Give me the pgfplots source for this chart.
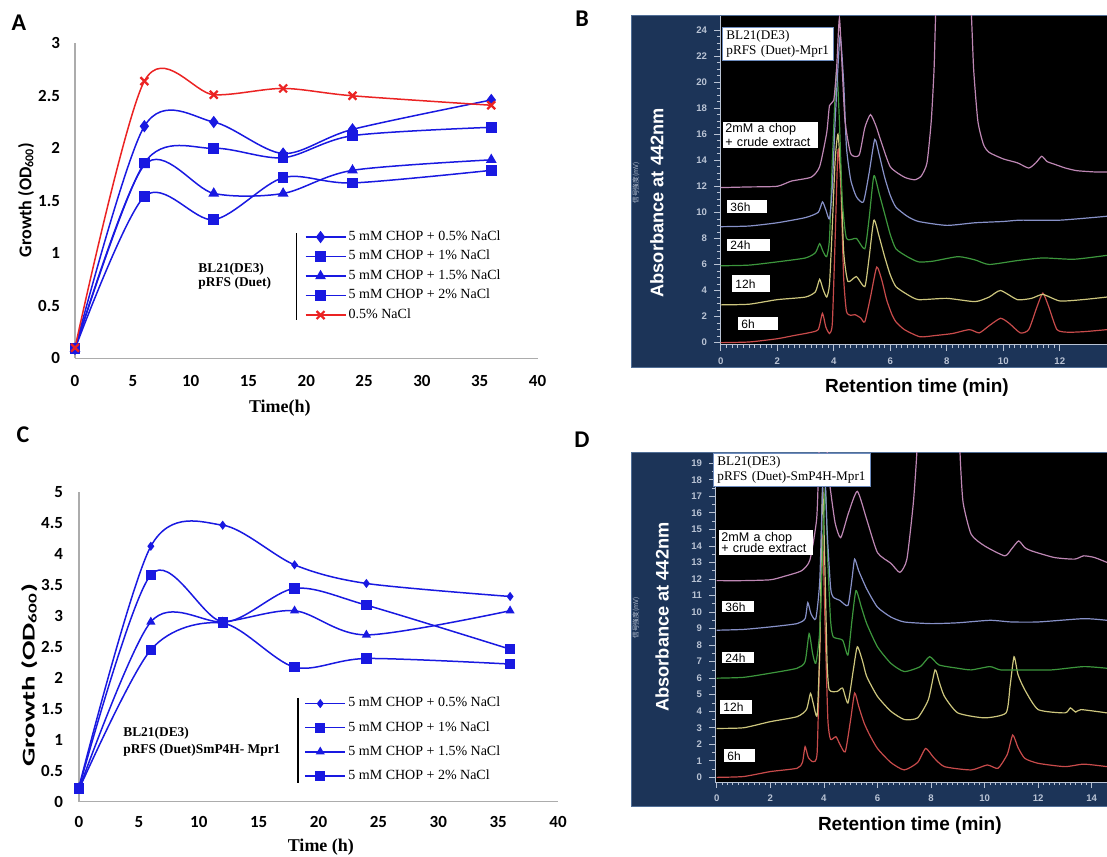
\documentclass[border=0pt]{standalone}
\usepackage{fontspec}
\setmainfont{Liberation Serif}
\newfontfamily\calibri{Carlito}
\newfontfamily\arial{Liberation Sans}
\newfontfamily\jpfont{Noto Sans CJK JP}
\usepackage{graphicx}
\usepackage{pgfplots}
\pgfplotsset{compat=1.18}

\definecolor{exblue}{RGB}{25,25,225}
\definecolor{exred}{RGB}{235,35,35}
\definecolor{navyframe}{RGB}{28,52,88}
\definecolor{navyedge}{RGB}{80,110,150}
\definecolor{boxblue}{RGB}{110,140,190}
\definecolor{c6}{RGB}{200,75,75}
\definecolor{c12}{RGB}{205,198,125}
\definecolor{c24}{RGB}{60,150,60}
\definecolor{c36}{RGB}{135,145,200}
\definecolor{cstd}{RGB}{190,135,180}
\definecolor{ticklight}{RGB}{185,195,212}

\pgfplotsset{
  growth/.style={
    scale only axis, clip=false,
    axis lines=left,
    axis line style={-, draw=gray!65, line width=0.6pt},
    major tick length=0pt, tick style={draw=none},
    tick label style={font=\calibri\bfseries\fontsize{8.5}{10}\selectfont},
    /pgf/number format/assume math mode=true,
    xmin=0, xmax=40, xtick={0,5,...,40},
    legend cell align=left,
    legend image code/.code={
      \draw[mark repeat=2,mark phase=2,##1] plot coordinates {(0pt,0pt) (7.5pt,0pt) (15pt,0pt)};
      \path (15pt,0pt) -- (20pt,0pt);
    },
    every axis plot/.append style={line width=0.75pt, smooth},
  },
  chrom/.style={
    scale only axis,
    axis background/.style={fill=black},
    axis x line*=bottom, axis y line*=left,
    axis line style={-, draw=ticklight, line width=0.5pt},
    tick align=outside, major tick length=3pt, minor tick length=1.6pt,
    tick style={draw=ticklight, line width=0.35pt},
    tick label style={font=\arial\bfseries\fontsize{4.8}{5}\selectfont, text=ticklight},
    /pgf/number format/assume math mode=true,
    xlabel style={font=\arial\bfseries\fontsize{9.5}{11}\selectfont, text=black, anchor=center},
    ylabel style={font=\arial\bfseries\fontsize{9.1}{11}\selectfont, text=white, anchor=center},
    every axis plot/.append style={line width=0.6pt, smooth, tension=0.35, no markers},
  },
}

\begin{document}
\begin{tikzpicture}
\useasboundingbox (0pt,0pt) rectangle (553.5pt,428pt);

% dark frames of the chromatograms
\begin{scope}[x=0.5pt, y=-0.5pt, shift={(0pt,428pt)}]
  \fill[navyframe, draw=navyedge, line width=0.5pt] (631,16) rectangle (1110,368);
  \fill[navyframe, draw=navyedge, line width=0.5pt] (631,453) rectangle (1110,806);
\end{scope}

% ---------------- Panel A ----------------
\begin{axis}[growth, at={(37.5pt,248.85pt)}, anchor=south west,
  width=231.25pt, height=157.5pt,
  ymin=0, ymax=3, ytick={0,0.5,...,3},
  yticklabel style={xshift=-4pt}, xticklabel style={yshift=-5pt},
  xlabel={Time(h)},
  xlabel style={font=\bfseries\fontsize{9}{10}\selectfont, at={(axis description cs:0.443,-0.158)}, anchor=center},
  ylabel={Growth (OD\textsubscript{600})},
  ylabel style={font=\calibri\bfseries\fontsize{9}{10}\selectfont, at={(axis description cs:-0.106,0.503)}, anchor=center},
  legend style={draw=none, fill=none, at={(axis description cs:0.496,0.414)}, anchor=north west,
    font=\fontsize{7}{8}\selectfont, row sep=1pt, inner sep=0pt, nodes={inner sep=1.2pt}},
]
\addplot[exblue, mark=diamond*, mark size=2.5pt] coordinates {(0,0.09)(6,2.21)(12,2.25)(18,1.95)(24,2.18)(36,2.46)};
\addlegendentry{5 mM CHOP + 0.5\% NaCl}
\addplot[exblue, mark=square*, mark size=2.3pt] coordinates {(0,0.09)(6,1.86)(12,2.0)(18,1.91)(24,2.12)(36,2.2)};
\addlegendentry{5 mM CHOP + 1\% NaCl}
\addplot[exblue, mark=triangle*, mark size=2.4pt] coordinates {(0,0.09)(6,1.84)(12,1.57)(18,1.57)(24,1.79)(36,1.89)};
\addlegendentry{5 mM CHOP + 1.5\% NaCl}
\addplot[exblue, mark=square*, mark size=2.3pt] coordinates {(0,0.09)(6,1.54)(12,1.32)(18,1.72)(24,1.67)(36,1.79)};
\addlegendentry{5 mM CHOP + 2\% NaCl}
\addplot[exred, mark=x, mark size=2.8pt, mark options={line width=1.1pt}] coordinates {(0,0.1)(6,2.64)(12,2.51)(18,2.57)(24,2.5)(36,2.41)};
\addlegendentry{0.5\% NaCl}
\draw[black, line width=0.8pt] (axis cs:19.17,1.193) -- (axis cs:19.17,0.365);
\node[anchor=north west, align=left, inner sep=0pt, font=\bfseries\fontsize{6.7}{7}\selectfont]
  at (axis cs:10.64,0.908) {BL21(DE3)\\pRFS (Duet)};
\end{axis}

% ---------------- Panel C ----------------
\begin{axis}[growth, at={(39.5pt,27.15pt)}, anchor=south west,
  width=239.5pt, height=155pt,
  ymin=0, ymax=5, ytick={0,0.5,...,5},
  yticklabel style={xshift=-4.5pt}, xticklabel style={yshift=-4pt},
  xlabel={Time (h)},
  xlabel style={font=\bfseries\fontsize{9}{10}\selectfont, at={(axis description cs:0.505,-0.146)}, anchor=center},
  ylabel={\scalebox{1.6}[1]{Growth (OD\textsubscript{600})}},
  ylabel style={font=\calibri\bfseries\fontsize{9}{10}\selectfont, at={(axis description cs:-0.104,0.409)}, anchor=center},
  legend style={draw=none, fill=none, at={(axis description cs:0.470,0.346)}, anchor=north west,
    font=\fontsize{7}{8}\selectfont, row sep=3.3pt, inner sep=0pt, nodes={inner sep=1.2pt}},
]
\addplot[exblue, mark=diamond*, mark size=1.7pt] coordinates {(0,0.24)(6,4.12)(12,4.46)(18,3.82)(24,3.52)(36,3.31)};
\addlegendentry{5 mM CHOP + 0.5\% NaCl}
\addplot[exblue, mark=square*, mark size=2.2pt] coordinates {(0,0.22)(6,3.66)(12,2.9)(18,3.44)(24,3.17)(36,2.46)};
\addlegendentry{5 mM CHOP + 1\% NaCl}
\addplot[exblue, mark=triangle*, mark size=1.9pt] coordinates {(0,0.2)(6,2.9)(12,2.9)(18,3.08)(24,2.69)(36,3.08)};
\addlegendentry{5 mM CHOP + 1.5\% NaCl}
\addplot[exblue, mark=square*, mark size=2.2pt] coordinates {(0,0.2)(6,2.45)(12,2.88)(18,2.17)(24,2.31)(36,2.22)};
\addlegendentry{5 mM CHOP + 2\% NaCl}
\draw[black, line width=0.8pt] (axis cs:18.31,1.673) -- (axis cs:18.31,0.302);
\node[anchor=north west, align=left, inner sep=0pt, font=\bfseries\fontsize{6.7}{8.5}\selectfont]
  at (axis cs:3.67,1.205) {BL21(DE3)\\pRFS (Duet)SmP4H- Mpr1};
\end{axis}

% ---------------- Panel B ----------------
\begin{axis}[chrom, at={(360pt,255.5pt)}, anchor=south west,
  width=193.5pt, height=164.5pt,
  xmin=-0.025, xmax=13.67, ymin=-0.18, ymax=25.07,
  xtick={0,2,...,12}, ytick={0,2,...,24}, minor x tick num=9, minor y tick num=3,
  xlabel={Retention time (min)}, xlabel style={at={(axis description cs:0.509,-0.128)}},
  ylabel={Absorbance at 442nm}, ylabel style={at={(axis description cs:-0.163,0.432)}},
]
% 6h
\addplot[c6] coordinates {(0,0)(1,0.05)(2,0.3)(2.6,0.55)(3.1,0.75)(3.45,1.0)(3.6,2.25)(3.72,1.2)(3.85,0.7)(3.95,1.5)(4.05,8)(4.15,14.8)(4.25,12)(4.35,5)(4.45,2.4)(4.6,2.1)(4.75,2.15)(4.95,1.9)(5.1,1.6)(5.3,3.5)(5.52,5.8)(5.7,4.8)(5.87,3.3)(6.05,2.2)(6.2,1.6)(6.5,1.0)(7.05,0.45)(7.6,0.55)(8.2,0.7)(8.8,1.0)(9.15,0.75)(9.5,1.3)(9.9,1.87)(10.2,1.5)(10.6,0.75)(10.9,1.0)(11.2,2.8)(11.4,3.8)(11.6,2.8)(11.9,1.0)(12.3,0.8)(12.9,0.85)(13.67,1.0)};
% 12h
\addplot[c12] coordinates {(0,2.9)(1,2.95)(2,3.3)(3.0,3.5)(3.35,3.9)(3.5,4.86)(3.62,4.1)(3.75,3.5)(3.85,4.5)(3.95,9)(4.05,14)(4.15,16)(4.25,13)(4.35,7)(4.5,4.7)(4.8,5.07)(5.1,4.3)(5.25,6.5)(5.42,9.4)(5.6,8.2)(5.8,6.6)(6.0,5.2)(6.2,4.3)(6.6,3.7)(7,3.3)(8,3.4)(9,3.15)(9.5,3.5)(9.9,4.0)(10.5,3.3)(11.0,3.4)(11.4,3.7)(12,3.2)(12.8,3.3)(13.67,3.5)};
% 24h
\addplot[c24] coordinates {(0,5.9)(1,5.95)(2,6.2)(3.0,6.5)(3.35,6.9)(3.5,7.6)(3.62,7.0)(3.75,6.6)(3.85,8)(3.95,14)(4.1,20.9)(4.2,17)(4.3,11)(4.45,8.0)(4.8,8.0)(5.1,7.2)(5.25,9.5)(5.42,12.8)(5.6,11.5)(5.8,9.9)(6.0,8.3)(6.2,7.2)(6.6,6.6)(7,6.2)(7.5,6.25)(8.4,6.6)(9.0,6.35)(9.5,6.0)(10.5,6.3)(11.4,6.5)(12.5,6.4)(13.67,6.7)};
% 36h
\addplot[c36] coordinates {(0,8.9)(1,8.95)(2,9.2)(3.0,9.6)(3.45,10.0)(3.6,10.8)(3.72,10.2)(3.85,9.5)(3.95,12)(4.05,17)(4.22,23.5)(4.35,20)(4.45,15)(4.6,12.5)(4.8,11.2)(5.05,10.8)(5.25,13)(5.45,15.6)(5.6,14.5)(5.8,12.7)(6.0,11.3)(6.2,10.4)(6.6,9.7)(7,9.3)(8,9.0)(9,9.2)(10,9.3)(10.6,9.4)(12,9.4)(13.67,9.7)};
% 2mM a chop + crude extract
\addplot[cstd] coordinates {(0,11.9)(1,11.95)(2,12.0)(2.5,12.4)(3.2,12.7)(3.5,13.5)(3.75,16.1)(3.85,18.2)(4.0,18.6)(4.1,21)(4.2,24.9)(4.3,21)(4.4,17)(4.6,14.5)(4.9,14.4)(5.1,16.5)(5.3,17.5)(5.5,16.6)(5.65,15.6)(6.0,13.5)(6.5,12.7)(6.87,12.5)(7.1,12.8)(7.3,13.8)(7.45,17)(7.55,21)(7.62,26)(7.8,32)(8.2,36)(8.6,32)(8.85,26)(8.95,21)(9.1,17)(9.3,15.2)(9.5,14.6)(10,14.1)(10.5,13.8)(10.9,13.4)(11.15,13.8)(11.36,14.3)(11.55,13.9)(11.8,13.7)(12.2,13.4)(12.6,13.2)(13.24,13.1)(13.67,13.1)};
\end{axis}

% ---------------- Panel D ----------------
\begin{axis}[chrom, at={(357.5pt,37pt)}, anchor=south west,
  width=196pt, height=164.5pt,
  xmin=-0.063, xmax=14.57, ymin=-0.28, ymax=19.62,
  xtick={0,2,...,14}, ytick={0,1,...,19}, minor x tick num=9, minor y tick num=1,
  xlabel={Retention time (min)}, xlabel style={at={(axis description cs:0.497,-0.131)}},
  ylabel={Absorbance at 442nm}, ylabel style={at={(axis description cs:-0.135,0.5015)}},
]
% 6h
\addplot[c6] coordinates {(0,0)(1,0.05)(2,0.35)(3,0.55)(3.2,0.9)(3.3,1.85)(3.42,1.2)(3.6,0.95)(3.75,1.5)(3.85,8)(3.95,14.5)(4.05,9)(4.15,3.5)(4.25,2.3)(4.45,2.46)(4.6,2.0)(4.8,1.55)(5.0,3.5)(5.15,5.1)(5.3,4.3)(5.5,3.3)(5.7,2.6)(6,1.75)(6.5,0.9)(7,0.45)(7.5,0.9)(7.8,1.75)(8.1,1.2)(8.5,0.65)(9.5,0.45)(10.1,0.75)(10.5,0.55)(10.85,1.4)(11.05,2.56)(11.25,1.8)(11.5,1.15)(12,0.85)(13,0.65)(13.7,0.8)(14.57,0.65)};
% 12h
\addplot[c12] coordinates {(0,2.96)(1,3.0)(2,3.37)(3,3.67)(3.35,4.1)(3.5,5.08)(3.6,4.5)(3.75,3.77)(3.85,8)(3.95,17.5)(4.05,12)(4.12,7)(4.2,5.3)(4.5,5.2)(4.7,5.4)(4.9,4.5)(5.1,6.5)(5.25,7.9)(5.45,7.0)(5.6,6.1)(6,4.9)(6.5,4.0)(7,3.5)(7.5,3.6)(7.9,4.7)(8.15,6.5)(8.3,5.8)(8.5,4.9)(9.0,3.9)(10,3.6)(10.8,3.9)(10.95,5.5)(11.1,7.3)(11.25,6.2)(11.5,5.3)(12,4.1)(13,3.9)(13.2,4.2)(13.4,3.95)(13.6,4.1)(14.57,3.9)};
% 24h
\addplot[c24] coordinates {(0,6.0)(1,6.05)(2,6.3)(3,6.6)(3.3,7.0)(3.45,8.7)(3.58,7.5)(3.7,6.9)(3.85,9)(4.05,17.5)(4.15,13)(4.25,9.5)(4.35,8.5)(4.7,8.3)(4.9,7.4)(5.05,9.5)(5.2,11.3)(5.4,10.3)(5.6,9.3)(6,7.9)(6.5,6.9)(7,6.4)(7.6,6.7)(7.95,7.3)(8.3,6.8)(9,6.6)(9.5,6.5)(10.2,6.7)(10.6,6.5)(11.5,6.5)(12.5,6.5)(13.7,6.7)(14.57,6.6)};
% 36h
\addplot[c36] coordinates {(0,8.9)(1,8.95)(2,9.1)(3,9.3)(3.3,9.6)(3.4,10.57)(3.52,9.9)(3.7,9.6)(3.85,12)(4.0,19.5)(4.12,15)(4.25,11.5)(4.35,10.9)(4.6,10.7)(4.9,10.4)(5.05,12)(5.15,13.2)(5.3,12.5)(5.6,11.4)(6,10.3)(6.5,9.7)(7,9.4)(8,9.3)(9,9.35)(10.2,9.5)(11,9.4)(12,9.4)(13.7,9.6)(14.57,9.5)};
% 2mM a chop + crude extract
\addplot[cstd] coordinates {(0,11.9)(1,11.9)(2,11.95)(2.5,12.15)(3.17,12.5)(3.48,13.15)(3.73,15.6)(3.8,18.6)(3.9,25)(4.05,25)(4.14,19)(4.23,17.6)(4.42,15.4)(4.63,14.5)(4.92,16)(5.25,17.3)(5.6,15.6)(6.0,13.6)(6.5,12.95)(6.84,12.4)(7.1,13.2)(7.34,16.6)(7.47,19.6)(7.6,24)(8.0,30)(8.5,30)(8.96,24)(9.1,19)(9.2,16.6)(9.5,14.7)(10.0,14.0)(10.75,13.4)(11.0,13.8)(11.27,14.3)(11.5,13.9)(11.75,13.7)(12.6,13.3)(13.36,13.2)(13.7,13.4)(14.1,13.3)(14.57,13.0)};
\end{axis}

% ---------------- annotations ----------------
\begin{scope}[x=0.5pt, y=-0.5pt, shift={(0pt,428pt)}]
  % panel letters
  \node[font=\calibri\bfseries\fontsize{12}{12}\selectfont] at (19,22.5) {A};
  \node[font=\calibri\bfseries\fontsize{12}{12}\selectfont] at (23,434.5) {C};
  \node[font=\calibri\bfseries\fontsize{12}{12}\selectfont] at (582,18.5) {B};
  \node[font=\calibri\bfseries\fontsize{12}{12}\selectfont] at (582,440) {D};
  % small instrument labels
  \node[rotate=90, font=\jpfont\fontsize{3.3}{4}\selectfont, text=ticklight] at (636,183) {信号強度(mV)};
  \node[rotate=90, font=\jpfont\fontsize{3.3}{4}\selectfont, text=ticklight] at (636,618) {信号強度(mV)};
  % panel B boxes
  \node[draw=boxblue, fill=white, anchor=north west, inner xsep=2pt, inner ysep=1.5pt, align=left,
        text width=51.5pt, font=\fontsize{6.6}{7.5}\selectfont] at (722,27) {BL21(DE3)\\pRFS (Duet)-Mpr1};
  \node[fill=white, anchor=north west, inner xsep=1pt, inner ysep=0.6pt, align=left,
        text width=45.5pt, font=\arial\fontsize{6.3}{5.7}\selectfont] at (723,122) {2mM a chop\\+ crude extract};
  \node[fill=white, anchor=north west, inner xsep=1.5pt, inner ysep=0pt, align=left, text width=17pt,
        minimum height=6.5pt, font=\arial\fontsize{6}{6}\selectfont] at (727,200) {36h};
  \node[fill=white, anchor=north west, inner xsep=1.5pt, inner ysep=0pt, align=left, text width=18.5pt,
        minimum height=6pt, font=\arial\fontsize{6}{6}\selectfont] at (727,239) {24h};
  \node[fill=white, anchor=north west, inner xsep=1.5pt, inner ysep=0pt, align=left, text width=16pt,
        minimum height=8.5pt, font=\arial\fontsize{6}{6}\selectfont] at (732,275) {12h};
  \node[fill=white, anchor=north west, inner xsep=1.5pt, inner ysep=0pt, align=left, text width=17pt,
        minimum height=6.5pt, font=\arial\fontsize{6}{6}\selectfont] at (738,317) {6h};
  % panel D boxes
  \node[draw=boxblue, fill=white, anchor=north west, inner xsep=2pt, inner ysep=1.5pt, align=left,
        text width=74.5pt, font=\fontsize{6.6}{7.5}\selectfont] at (713,453) {BL21(DE3)\\pRFS (Duet)-SmP4H-Mpr1};
  \node[fill=white, anchor=north west, inner xsep=1pt, inner ysep=0.8pt, align=left,
        text width=45pt, font=\arial\fontsize{6.3}{5.9}\selectfont] at (719,530) {2mM a chop\\+ crude extract};
  \node[fill=white, anchor=north west, inner xsep=1.5pt, inner ysep=0pt, align=left, text width=13pt,
        minimum height=5.5pt, font=\arial\fontsize{6}{6}\selectfont] at (722,601) {36h};
  \node[fill=white, anchor=north west, inner xsep=1.5pt, inner ysep=0pt, align=left, text width=13pt,
        minimum height=5.5pt, font=\arial\fontsize{6}{6}\selectfont] at (722,652) {24h};
  \node[fill=white, anchor=north west, inner xsep=1.5pt, inner ysep=0pt, align=left, text width=13pt,
        minimum height=7pt, font=\arial\fontsize{6}{6}\selectfont] at (720,700) {12h};
  \node[fill=white, anchor=north west, inner xsep=1.5pt, inner ysep=0pt, align=left, text width=12.5pt,
        minimum height=6.5pt, font=\arial\fontsize{6}{6}\selectfont] at (724,749) {6h};
\end{scope}
\end{tikzpicture}
\end{document}
